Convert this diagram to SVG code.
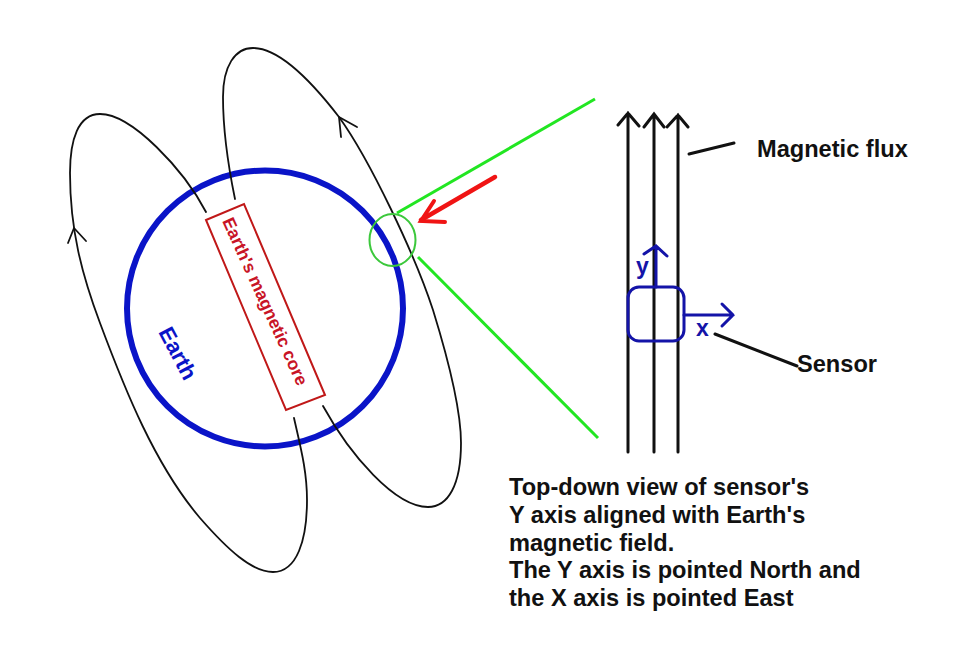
<svg xmlns="http://www.w3.org/2000/svg" width="980" height="662" viewBox="0 0 980 662">
<style>
.t{font-family:"Liberation Sans",Arial,sans-serif;font-weight:bold;fill:#111}
.f{fill:none;stroke:#111;stroke-width:1.8;stroke-linecap:round;stroke-linejoin:round}
.k{fill:none;stroke:#111;stroke-width:3;stroke-linecap:round;stroke-linejoin:miter}
.b{fill:none;stroke:#1414a8;stroke-width:3;stroke-linecap:round}
.g{fill:none;stroke:#22e622;stroke-width:3}
</style>
<rect width="980" height="662" fill="#fff"/>
<g id="earth"><circle cx="265" cy="308.5" r="138" fill="none" stroke="#0a14c8" stroke-width="6"/>
<text class="t" transform="translate(158,332) rotate(62)" font-size="22" style="fill:#0a14c8">Earth</text></g>
<g id="core"><polygon points="206,220 244,204 325,395 286,410" fill="none" stroke="#c01818" stroke-width="2"/>
<text class="t" transform="translate(222,221) rotate(65.5)" font-size="17.5" style="fill:#c81426">Earth's magnetic core</text></g>
<g id="connectors">
<path class="f" d="M206,212 C184,170 132,114 100,114 C78,114 70,140 70,173 C70,230 82,275 100,323 C125,390 155,465 200,518 C228,550 252,572 273,572 C297,572 307,540 307,500 C307,470 300,445 294,418"/>
<path class="f" d="M68,243 L74,228 L86,241"/>
<path class="f" d="M235,199 C228,165 223,130 223,97 C223,66 235,48 253,48 C280,48 312,82 339,117 C370,160 415,255 433,310 C450,365 461,410 461,443 C461,485 448,507 428,507 C395,507 350,455 323,406"/>
<path class="f" d="M341,137 L339,117 L357,127"/>
<path class="g" d="M397,213 L595,99"/>
<path class="g" d="M418,257 L598,438"/>
<path d="M495,177 L421,220" fill="none" stroke="#f01414" stroke-width="4.5" stroke-linecap="round"/>
<path d="M434,201 L421,221 L445,222" fill="none" stroke="#f01414" stroke-width="4" stroke-linecap="round"/>
<path class="k" d="M628,452 V113 M618,125 L628,113 L639,126"/>
<path class="k" d="M654,452 V114 M644,127 L654,114 L664,127"/>
<path class="k" d="M678,452 V115 M667,127 L678,115 L688,127"/>
<path class="k" d="M689,154 L734,143"/>
<path class="k" d="M715,334 L797,366"/>
</g>
<g id="lens"><ellipse cx="392.5" cy="240" rx="23" ry="26" fill="none" stroke="#3cc83c" stroke-width="2"/></g>
<g id="sensor"><rect x="628" y="287" width="56" height="54" rx="11" fill="none" stroke="#1414a8" stroke-width="3"/>
<path class="b" d="M656,287 V246 M644,254 L656,246 L667,256"/>
<path class="b" d="M684,315 H733 M722,304 L733,315 L722,326"/>
<text class="t" x="636" y="274" font-size="23" style="fill:#1414a8">y</text>
<text class="t" x="696" y="336" font-size="23" style="fill:#1414a8">x</text></g>
<g id="labels">
<text class="t" x="757" y="157" font-size="23.6">Magnetic flux</text>
<text class="t" x="797" y="372" font-size="23.6">Sensor</text>
<text class="t" x="509" y="495" font-size="23.6">Top-down view of sensor's</text>
<text class="t" x="509" y="523" font-size="23.6">Y axis aligned with Earth's</text>
<text class="t" x="509" y="551" font-size="23.6">magnetic field.</text>
<text class="t" x="509" y="578" font-size="23.6">The Y axis is pointed North and</text>
<text class="t" x="509" y="606" font-size="23.6">the X axis is pointed East</text>
</g>
</svg>
